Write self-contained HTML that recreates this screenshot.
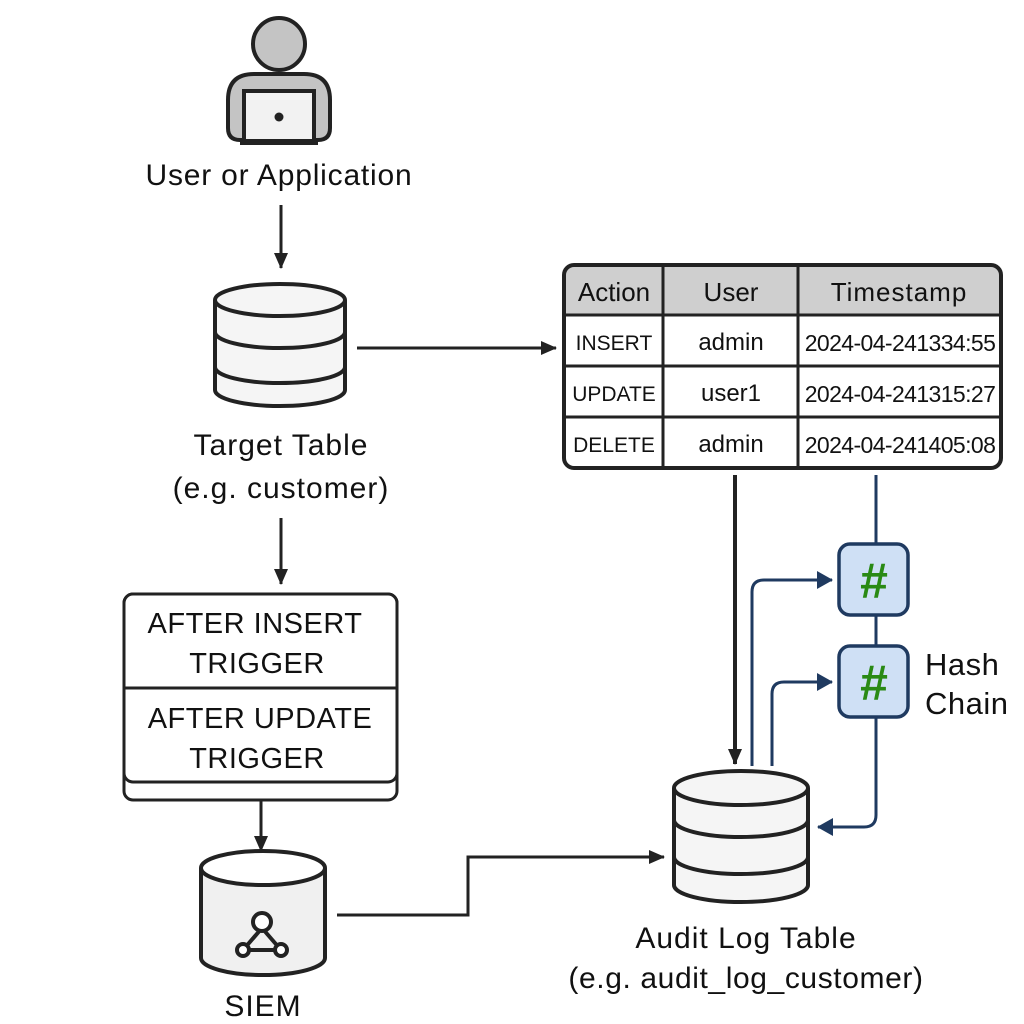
<!DOCTYPE html>
<html><head><meta charset="utf-8"><style>
html,body{margin:0;padding:0;background:#fff;}
svg{display:block;}
text{font-family:"Liberation Sans","DejaVu Sans",sans-serif;fill:#111;}
</style></head><body>
<svg width="1024" height="1024" viewBox="0 0 1024 1024" xmlns="http://www.w3.org/2000/svg">
<defs>
<marker id="ak" markerWidth="16" markerHeight="16" refX="15" refY="8" orient="auto" markerUnits="userSpaceOnUse" viewBox="0 0 16 16"><path d="M0,1 L16,8 L0,15 z" fill="#222"/></marker>
<marker id="ab" markerWidth="16" markerHeight="18" refX="15" refY="9" orient="auto" markerUnits="userSpaceOnUse" viewBox="0 0 16 18"><path d="M0,0 L16,9 L0,18 z" fill="#1f3a60"/></marker>
</defs>
<rect width="1024" height="1024" fill="#fff"/>
<!-- user icon -->
<g stroke="#222" stroke-width="4">
<circle cx="279" cy="44" r="26" fill="#c4c4c4"/>
<path d="M228,128 L228,100 Q228,74 254,74 L304,74 Q330,74 330,100 L330,128 Q330,140 318,140 L240,140 Q228,140 228,128 Z" fill="#c4c4c4"/>
<rect x="244" y="91" width="70" height="50" fill="#f2f2f2"/>
</g>
<rect x="240" y="140" width="78" height="5" fill="#222"/>
<circle cx="279" cy="117" r="4.5" fill="#222"/>
<text x="279" y="185" font-size="30" letter-spacing="0.8" text-anchor="middle">User or Application</text>
<line x1="281" y1="205" x2="281" y2="268" stroke="#222" stroke-width="3" marker-end="url(#ak)"/>
<!-- target cylinder -->
<g stroke="#222" stroke-width="4" fill="#f5f5f5">
<path d="M215,300 L215,390 A65,16 0 0 0 345,390 L345,300"/>
<path d="M215,332 A65,16 0 0 0 345,332" fill="none"/>
<path d="M215,367 A65,16 0 0 0 345,367" fill="none"/>
<ellipse cx="280" cy="300" rx="65" ry="16"/>
</g>
<text x="281" y="455" font-size="30" letter-spacing="1" text-anchor="middle">Target Table</text>
<text x="281" y="498" font-size="30" letter-spacing="1" text-anchor="middle">(e.g. customer)</text>
<line x1="357" y1="348" x2="556" y2="348" stroke="#222" stroke-width="3" marker-end="url(#ak)"/>
<!-- table -->
<clipPath id="tc"><rect x="564" y="265" width="437" height="203" rx="10"/></clipPath>
<g clip-path="url(#tc)">
<rect x="564" y="265" width="437" height="50" fill="#cfcfcf"/>
<rect x="564" y="315" width="437" height="153" fill="#fff"/>
</g>
<g stroke="#222" stroke-width="3" fill="none">
<rect x="564" y="265" width="437" height="203" rx="10" stroke-width="4"/>
<line x1="564" y1="315" x2="1001" y2="315"/>
<line x1="564" y1="366" x2="1001" y2="366"/>
<line x1="564" y1="417" x2="1001" y2="417"/>
<line x1="663" y1="265" x2="663" y2="468"/>
<line x1="798" y1="265" x2="798" y2="468"/>
</g>
<g font-size="26" text-anchor="middle">
<text x="614" y="301">Action</text><text x="731" y="301">User</text><text x="899" y="301" letter-spacing="1">Timestamp</text>
</g>
<g font-size="21" text-anchor="middle">
<text x="614" y="350">INSERT</text><text x="614" y="401">UPDATE</text><text x="614" y="452">DELETE</text>
</g>
<g font-size="24" text-anchor="middle">
<text x="731" y="350">admin</text><text x="731" y="401">user1</text><text x="731" y="452">admin</text>
</g>
<g font-size="23" text-anchor="middle" letter-spacing="-0.6">
<text x="900" y="351">2024-04-241334:55</text><text x="900" y="402">2024-04-241315:27</text><text x="900" y="453">2024-04-241405:08</text>
</g>
<!-- trigger -->
<line x1="281" y1="518" x2="281" y2="584" stroke="#222" stroke-width="3" marker-end="url(#ak)"/>
<g stroke="#222" stroke-width="3" fill="#fff">
<rect x="124" y="594" width="273" height="206" rx="9"/>
<rect x="124" y="594" width="273" height="188" rx="9"/>
<path d="M124,688 L397,688" />
</g>
<g font-size="29" text-anchor="middle" letter-spacing="0.5">
<text x="255" y="633">AFTER INSERT</text><text x="257" y="673">TRIGGER</text>
<text x="260" y="728">AFTER UPDATE</text><text x="257" y="768">TRIGGER</text>
</g>
<line x1="261" y1="800" x2="261" y2="851" stroke="#222" stroke-width="3" marker-end="url(#ak)"/>
<!-- SIEM -->
<g stroke="#222" stroke-width="4" fill="#f0f0f0">
<path d="M201,868 L201,958 A62,17 0 0 0 325,958 L325,868"/>
<ellipse cx="263" cy="868" rx="62" ry="17" fill="#fff"/>
</g>
<g stroke="#222" stroke-width="4" fill="#fff">
<line x1="262" y1="928" x2="243" y2="950"/><line x1="262" y1="928" x2="281" y2="950"/><line x1="243" y1="950" x2="281" y2="950"/>
<circle cx="262" cy="922" r="9"/><circle cx="243" cy="950" r="6"/><circle cx="281" cy="950" r="6"/>
</g>
<text x="263" y="1016" font-size="30" letter-spacing="1" text-anchor="middle">SIEM</text>
<polyline points="337,915 468,915 468,857 664,857" fill="none" stroke="#222" stroke-width="3" marker-end="url(#ak)"/>
<!-- audit cylinder -->
<g stroke="#222" stroke-width="4" fill="#f5f5f5">
<path d="M674,788 L674,885 A67,17 0 0 0 808,885 L808,788"/>
<path d="M674,820 A67,17 0 0 0 808,820" fill="none"/>
<path d="M674,857 A67,17 0 0 0 808,857" fill="none"/>
<ellipse cx="741" cy="788" rx="67" ry="17"/>
</g>
<text x="746" y="948" font-size="30" letter-spacing="1" text-anchor="middle">Audit Log Table</text>
<text x="746" y="988" font-size="30" letter-spacing="0.6" text-anchor="middle">(e.g. audit_log_customer)</text>
<line x1="735" y1="475" x2="735" y2="764" stroke="#222" stroke-width="4" marker-end="url(#ak)"/>
<!-- blue -->
<g stroke="#1f3a60" stroke-width="3" fill="none">
<path d="M752,766 L752,592 Q752,580 764,580 L832,580" marker-end="url(#ab)"/>
<path d="M772,766 L772,694 Q772,682 784,682 L832,682" marker-end="url(#ab)"/>
<line x1="876" y1="475" x2="876" y2="545"/>
<line x1="876" y1="615" x2="876" y2="647"/>
<path d="M876,717 L876,815 Q876,827 864,827 L818,827" marker-end="url(#ab)"/>
</g>
<g stroke="#1f3a60" stroke-width="3.5" fill="#cfe0f5">
<rect x="839" y="544" width="69" height="71" rx="11"/>
<rect x="839" y="646" width="69" height="71" rx="11"/>
</g>
<g font-size="50" font-weight="bold" text-anchor="middle">
<text x="874" y="598" style="fill:#2a8a14">#</text>
<text x="874" y="700" style="fill:#2a8a14">#</text>
</g>
<text x="925" y="675" font-size="31" letter-spacing="0.5">Hash</text>
<text x="925" y="714" font-size="31" letter-spacing="0.5">Chain</text>
</svg>
</body></html>
